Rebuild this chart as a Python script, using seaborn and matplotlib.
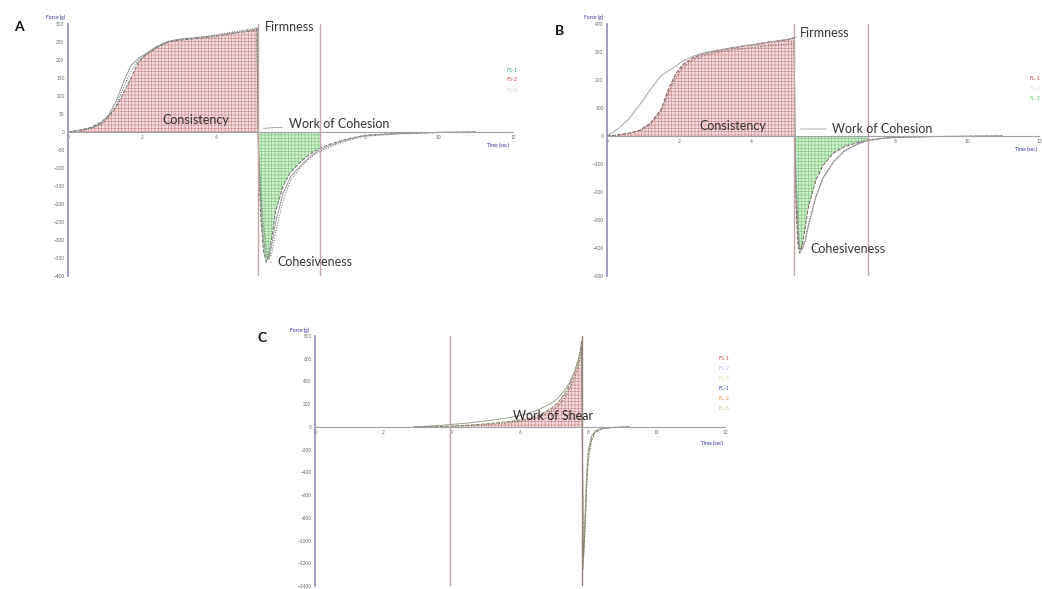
import matplotlib
matplotlib.use('agg')
import matplotlib.pyplot as plt
import pandas as pd
import seaborn as sns

# ---- panel A : back extrusion, FS samples ----
t_a = [0, 0.3, 0.6, 0.9, 1.1, 1.3, 1.5, 1.7, 1.9, 2.1, 2.4, 2.7, 3.0, 3.5, 4.0, 4.5, 5.0, 5.1,
       5.12, 5.15, 5.2, 5.27, 5.35, 5.42, 5.5, 5.6, 5.8, 6.0, 6.3, 6.6, 6.8, 7.0, 7.5, 8.0, 9.0, 10.0, 11.0]
fs1_a = [0, 5, 12, 28, 45, 70, 110, 150, 195, 215, 235, 250, 255, 260, 266, 275, 282, 286,
         12, -120, -240, -330, -362, -340, -290, -220, -150, -112, -80, -56, -45, -36, -20, -9, -3, -1, 0]
fs2_a = [0, 4, 10, 25, 48, 85, 140, 185, 205, 218, 238, 252, 258, 262, 268, 276, 284, 288,
         18, -90, -200, -300, -345, -350, -310, -250, -170, -125, -90, -62, -50, -40, -22, -10, -4, -1, 0]
fs3_a = [0, 3, 9, 22, 40, 75, 125, 170, 200, 214, 236, 250, 257, 263, 270, 279, 287, 290,
         22, -60, -160, -260, -320, -355, -335, -280, -190, -135, -95, -66, -54, -44, -25, -12, -5, -2, 0]

# ---- panel B : back extrusion, FL samples ----
t_b = [0, 0.3, 0.6, 0.9, 1.2, 1.5, 1.7, 1.9, 2.1, 2.4, 2.7, 3.0, 3.5, 4.0, 4.5, 5.0, 5.2,
       5.22, 5.25, 5.3, 5.35, 5.4, 5.5, 5.6, 5.8, 6.0, 6.3, 6.6, 7.0, 7.25, 7.6, 8.0, 9.0, 10.0, 11.0]
fs1_b = [0, 4, 10, 20, 45, 95, 165, 220, 255, 280, 295, 303, 315, 325, 335, 343, 350,
         5, -250, -380, -418, -405, -330, -250, -160, -105, -60, -38, -22, -14, -9, -5, -2, -1, 0]
fs2_b = [0, 25, 60, 110, 165, 215, 232, 248, 268, 285, 297, 305, 316, 326, 336, 345, 352,
         8, -150, -300, -395, -410, -380, -320, -220, -150, -90, -52, -26, -16, -9, -4, -2, -1, 0]
fs3_b = [0, 3, 8, 18, 40, 85, 150, 205, 245, 272, 288, 297, 308, 315, 322, 328, 332,
         3, -200, -340, -405, -400, -370, -310, -215, -150, -92, -54, -27, -17, -10, -5, -2, -1, 0]

# ---- panel C : shear test ----
t_c = [2.9, 3.3, 3.7, 4.0, 4.4, 4.8, 5.2, 5.6, 6.0, 6.3, 6.6, 6.9, 7.1, 7.3, 7.45, 7.6, 7.7, 7.78,
       7.8, 7.82, 7.85, 7.9, 7.95, 8.0, 8.1, 8.2, 8.4, 8.7, 9.2]
fs1_c = [0, 2, 4, 8, 14, 22, 33, 45, 60, 80, 110, 160, 210, 290, 370, 480, 590, 700,
         760, 200, -1200, -900, -500, -250, -100, -45, -15, -5, 0]
fs2_c = [0, 6, 14, 22, 32, 45, 60, 78, 100, 125, 160, 205, 250, 320, 390, 490, 580, 680,
         730, 150, -1250, -820, -420, -200, -80, -35, -12, -4, 0]
fl1_c = [0, 1, 2, 5, 10, 16, 25, 35, 48, 65, 92, 135, 180, 250, 330, 430, 530, 640,
         700, 100, -1150, -950, -560, -300, -120, -50, -18, -6, 0]

tick_a = list(range(-400, 301, 50))
tick_b = list(range(-500, 401, 100))
tick_c = list(range(-1400, 801, 200))
time_ticks = list(range(0, 13, 2))

sns.set_style('white')
plt.rcParams['font.family'] = ['Lato', 'DejaVu Sans']
plt.rcParams['hatch.linewidth'] = 0.4

W, H = 1042, 589
fig = plt.figure(figsize=(W / 100, H / 100), dpi=100)


def px(x, y):
    return x / W, 1 - y / H


def rect(left, top, right, bottom):
    return [left / W, 1 - bottom / H, (right - left) / W, (bottom - top) / H]


def style_axis(ax, ylim, yticks):
    ax.set_xlim(0, 12)
    ax.set_ylim(*ylim)
    ax.set_yticks(yticks)
    ax.set_xticks(time_ticks)
    ax.spines['bottom'].set_position(('data', 0))
    ax.spines['top'].set_visible(False)
    ax.spines['right'].set_visible(False)
    ax.spines['left'].set_color('#8e90b0')
    ax.spines['bottom'].set_color('#a0a0a8')
    ax.spines['left'].set_linewidth(1.2)
    ax.spines['bottom'].set_linewidth(0.8)
    ax.tick_params(axis='both', labelsize=3.4, labelcolor='#666666', length=1.5,
                   width=0.5, color='#888888', pad=1)
    ax.set_xlabel('')
    ax.set_ylabel('')
    ax.patch.set_alpha(0)


def draw_curves(ax, t, series, colors, dashes):
    for y, c, d in zip(series, colors, dashes):
        df = pd.DataFrame({'t': t, 'f': y})
        sns.lineplot(data=df, x='t', y='f', ax=ax, color=c, lw=0.7, linestyle=d,
                     estimator=None, sort=False)


def note(ax, text, xy, xytext):
    ax.annotate(text, xy=xy, xytext=xytext, fontsize=9, color='#333333', va='center',
                arrowprops=dict(arrowstyle='-', color='#888888', lw=0.5))


red_face, red_hatch = '#f4d9d9', '#c98888'
green_face, green_hatch = '#cdf0cd', '#7cc27c'

# ---------- A ----------
axA = fig.add_axes(rect(68, 24, 513, 276))
tA = pd.Series(t_a)
fA = pd.Series(fs1_a)
axA.fill_between(tA, fA, 0, where=(tA <= 5.1) & (fA > 0), facecolor=red_face,
                 edgecolor=red_hatch, hatch='+++++', linewidth=0)
axA.fill_between(tA, fA, 0, where=(tA >= 5.1) & (tA <= 6.8) & (fA <= 12), facecolor=green_face,
                 edgecolor=green_hatch, hatch='+++++', linewidth=0)
draw_curves(axA, t_a, [fs1_a, fs2_a, fs3_a], ['#6e6e6e', '#9a9a9a', '#5a6a5a'], ['--', '-', ':'])
axA.axvline(5.12, color='#c4a6a6', lw=1)
axA.axvline(6.8, color='#c4a6a6', lw=1)
style_axis(axA, (-400, 300), tick_a)
note(axA, 'Firmness', (5.1, 286), (5.3, 292))
axA.text(3.45, 33, 'Consistency', fontsize=9, color='#333333', ha='center', va='center')
note(axA, 'Work of Cohesion', (5.2, 10), (5.95, 22))
note(axA, 'Cohesiveness', (5.38, -362), (5.65, -360))

# ---------- B ----------
axB = fig.add_axes(rect(607, 24, 1039, 276))
tB = pd.Series(t_b)
fB = pd.Series(fs1_b)
axB.fill_between(tB, fB, 0, where=(tB <= 5.2) & (fB > 0), facecolor=red_face,
                 edgecolor=red_hatch, hatch='+++++', linewidth=0)
axB.fill_between(tB, fB, 0, where=(tB >= 5.2) & (tB <= 7.25) & (fB <= 5), facecolor=green_face,
                 edgecolor=green_hatch, hatch='+++++', linewidth=0)
draw_curves(axB, t_b, [fs1_b, fs2_b, fs3_b], ['#7a5a5a', '#a0a0a0', '#6a6a6a'], ['--', '-', ':'])
axB.axvline(5.2, color='#c4a6a6', lw=1)
axB.axvline(7.25, color='#c4a6a6', lw=1)
style_axis(axB, (-500, 400), tick_b)
note(axB, 'Firmness', (5.2, 352), (5.35, 368))
axB.text(3.5, 36, 'Consistency', fontsize=9, color='#333333', ha='center', va='center')
note(axB, 'Work of Cohesion', (5.3, 25), (6.25, 25))
note(axB, 'Cohesiveness', (5.4, -415), (5.65, -404))

# ---------- C ----------
axC = fig.add_axes(rect(315, 336, 725, 586))
tC = pd.Series(t_c)
fC = pd.Series(fs1_c)
axC.fill_between(tC, fC, 0, where=(tC >= 3.94) & (tC <= 7.8) & (fC > 0), facecolor=red_face,
                 edgecolor=red_hatch, hatch='+++++', linewidth=0)
draw_curves(axC, t_c, [fs1_c, fs2_c, fl1_c], ['#7c8c68', '#9aa08a', '#5c6c4c'], ['--', '-', ':'])
axC.axvline(3.94, color='#c4a6a6', lw=1)
axC.axvline(7.8, color='#9a8080', lw=1)
style_axis(axC, (-1400, 800), tick_c)
axC.text(5.8, 95, 'Work of Shear', fontsize=9, color='#222222', va='center')

# ---------- outer labels ----------
for lab, (x, y) in zip(['A', 'B', 'C'], [(14, 27), (555, 31), (258, 338)]):
    fig.text(*px(x, y), lab, fontsize=10, fontweight='bold', ha='left', va='center', color='#111111')

for (x, y) in [(55, 17), (593, 17), (299, 330)]:
    fig.text(*px(x, y), 'Force (g)', fontsize=3.5, color='#2a2a9a', ha='center', va='center')
for (x, y) in [(498, 145), (1026, 149), (712, 443)]:
    fig.text(*px(x, y), 'Time (sec)', fontsize=3.5, color='#2a2a9a', ha='center', va='center')

legend_a = ['FS-1', 'FS-2', 'FS-3']
legend_a_colors = ['#3aa08a', '#d04050', '#c8c8c8']
for i, (lab, c) in enumerate(zip(legend_a, legend_a_colors)):
    fig.text(*px(512, 70 + 10 * i), lab, fontsize=3.8, color=c, ha='center', va='center')

legend_b = ['FL-1', 'FL-2', 'FL-3']
legend_b_colors = ['#d04050', '#e0e0e0', '#60c060']
for i, (lab, c) in enumerate(zip(legend_b, legend_b_colors)):
    fig.text(*px(1030, 78 + 10 * i), lab, fontsize=3.8, color=c, ha='left', va='center')

legend_c = ['FS-1', 'FS-2', 'FS-3', 'FL-1', 'FL-2', 'FL-3']
legend_c_colors = ['#d05050', '#b0b0e0', '#e8e0a0', '#3040a0', '#e09040', '#a0d090']
for i, (lab, c) in enumerate(zip(legend_c, legend_c_colors)):
    fig.text(*px(724, 359 + 10 * i), lab, fontsize=3.8, color=c, ha='center', va='center')

plt.savefig('out.png', dpi=100)
